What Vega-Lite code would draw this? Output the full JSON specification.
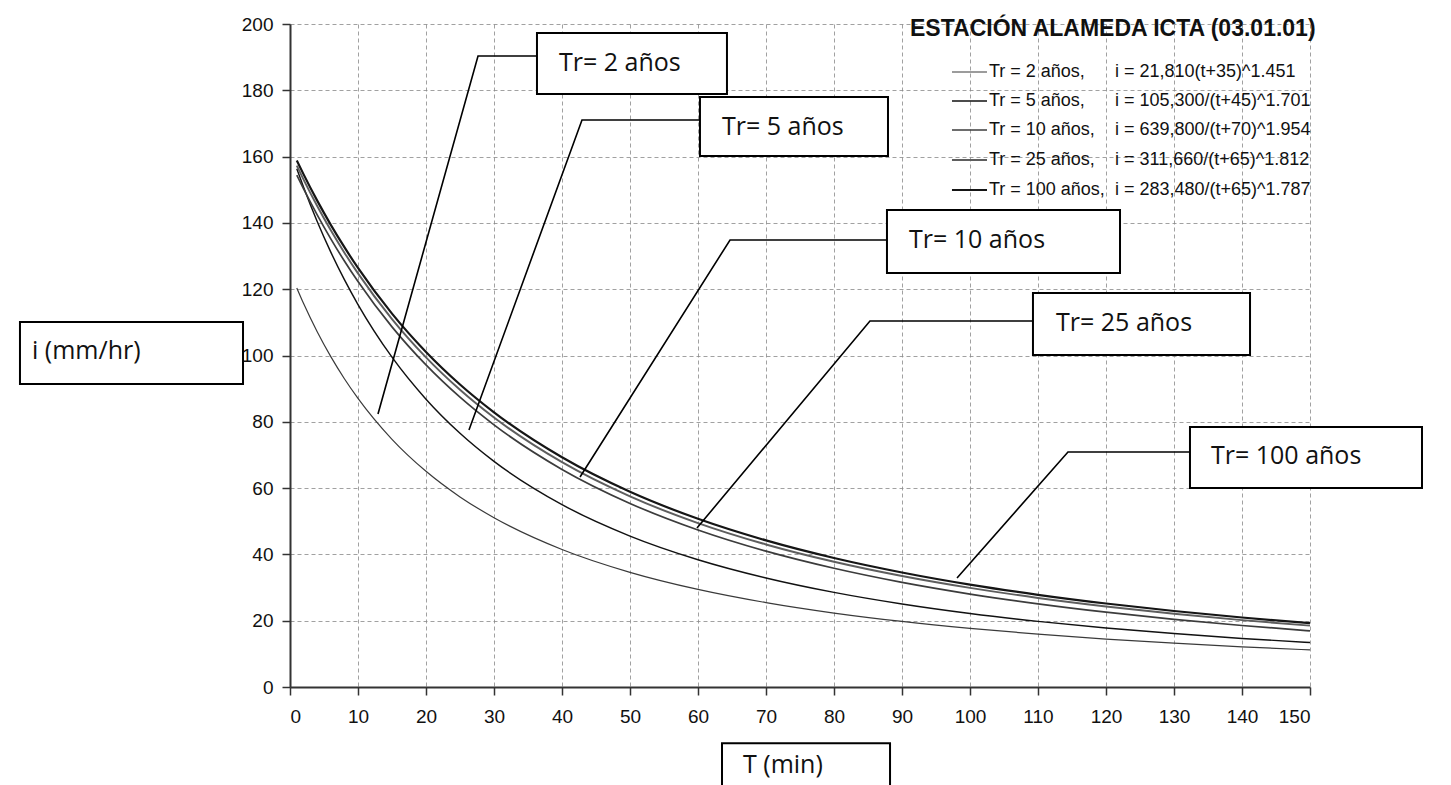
{
  "$schema": "https://vega.github.io/schema/vega-lite/v6.json",
  "width": 1020,
  "height": 663,
  "autosize": {"type": "none"},
  "padding": {"left": 290, "top": 24, "right": 141, "bottom": 98},
  "background": "white",
  "config": {"view": {"stroke": null}},
  "datasets": {
    "curves": [
      {"serie": "2", "t": 1, "i": 120.35}, {"serie": "2", "t": 2, "i": 115.66}, {"serie": "2", "t": 4, "i": 107.16}, {"serie": "2", "t": 6, "i": 99.66}, {"serie": "2", "t": 8, "i": 93.0}, {"serie": "2", "t": 10, "i": 87.07}, {"serie": "2", "t": 15, "i": 74.72}, {"serie": "2", "t": 20, "i": 65.07}, {"serie": "2", "t": 25, "i": 57.35}, {"serie": "2", "t": 30, "i": 51.07}, {"serie": "2", "t": 40, "i": 41.49}, {"serie": "2", "t": 50, "i": 34.6}, {"serie": "2", "t": 60, "i": 29.44}, {"serie": "2", "t": 70, "i": 25.46}, {"serie": "2", "t": 80, "i": 22.31}, {"serie": "2", "t": 90, "i": 19.77}, {"serie": "2", "t": 100, "i": 17.68}, {"serie": "2", "t": 110, "i": 15.94}, {"serie": "2", "t": 120, "i": 14.47}, {"serie": "2", "t": 130, "i": 13.22}, {"serie": "2", "t": 140, "i": 12.13}, {"serie": "2", "t": 150, "i": 11.19},
      {"serie": "5", "t": 1, "i": 156.34}, {"serie": "5", "t": 2, "i": 150.73}, {"serie": "5", "t": 4, "i": 140.41}, {"serie": "5", "t": 6, "i": 131.18}, {"serie": "5", "t": 8, "i": 122.87}, {"serie": "5", "t": 10, "i": 115.36}, {"serie": "5", "t": 15, "i": 99.49}, {"serie": "5", "t": 20, "i": 86.83}, {"serie": "5", "t": 25, "i": 76.55}, {"serie": "5", "t": 30, "i": 68.07}, {"serie": "5", "t": 40, "i": 55.02}, {"serie": "5", "t": 50, "i": 45.53}, {"serie": "5", "t": 60, "i": 38.4}, {"serie": "5", "t": 70, "i": 32.9}, {"serie": "5", "t": 80, "i": 28.55}, {"serie": "5", "t": 90, "i": 25.05}, {"serie": "5", "t": 100, "i": 22.18}, {"serie": "5", "t": 110, "i": 19.8}, {"serie": "5", "t": 120, "i": 17.8}, {"serie": "5", "t": 130, "i": 16.11}, {"serie": "5", "t": 140, "i": 14.65}, {"serie": "5", "t": 150, "i": 13.4},
      {"serie": "10", "t": 1, "i": 154.41}, {"serie": "10", "t": 2, "i": 150.25}, {"serie": "10", "t": 4, "i": 142.42}, {"serie": "10", "t": 6, "i": 135.19}, {"serie": "10", "t": 8, "i": 128.5}, {"serie": "10", "t": 10, "i": 122.3}, {"serie": "10", "t": 15, "i": 108.63}, {"serie": "10", "t": 20, "i": 97.15}, {"serie": "10", "t": 25, "i": 87.41}, {"serie": "10", "t": 30, "i": 79.08}, {"serie": "10", "t": 40, "i": 65.64}, {"serie": "10", "t": 50, "i": 55.38}, {"serie": "10", "t": 60, "i": 47.36}, {"serie": "10", "t": 70, "i": 40.97}, {"serie": "10", "t": 80, "i": 35.81}, {"serie": "10", "t": 90, "i": 31.56}, {"serie": "10", "t": 100, "i": 28.04}, {"serie": "10", "t": 110, "i": 25.08}, {"serie": "10", "t": 120, "i": 22.56}, {"serie": "10", "t": 130, "i": 20.41}, {"serie": "10", "t": 140, "i": 18.55}, {"serie": "10", "t": 150, "i": 16.94},
      {"serie": "25", "t": 1, "i": 157.28}, {"serie": "25", "t": 2, "i": 153.05}, {"serie": "25", "t": 4, "i": 145.11}, {"serie": "25", "t": 6, "i": 137.79}, {"serie": "25", "t": 8, "i": 131.02}, {"serie": "25", "t": 10, "i": 124.76}, {"serie": "25", "t": 15, "i": 110.99}, {"serie": "25", "t": 20, "i": 99.44}, {"serie": "25", "t": 25, "i": 89.66}, {"serie": "25", "t": 30, "i": 81.29}, {"serie": "25", "t": 40, "i": 67.81}, {"serie": "25", "t": 50, "i": 57.5}, {"serie": "25", "t": 60, "i": 49.44}, {"serie": "25", "t": 70, "i": 43.0}, {"serie": "25", "t": 80, "i": 37.78}, {"serie": "25", "t": 90, "i": 33.48}, {"serie": "25", "t": 100, "i": 29.9}, {"serie": "25", "t": 110, "i": 26.87}, {"serie": "25", "t": 120, "i": 24.3}, {"serie": "25", "t": 130, "i": 22.09}, {"serie": "25", "t": 140, "i": 20.17}, {"serie": "25", "t": 150, "i": 18.51},
      {"serie": "100", "t": 1, "i": 158.85}, {"serie": "100", "t": 2, "i": 154.64}, {"serie": "100", "t": 4, "i": 146.72}, {"serie": "100", "t": 6, "i": 139.42}, {"serie": "100", "t": 8, "i": 132.67}, {"serie": "100", "t": 10, "i": 126.41}, {"serie": "100", "t": 15, "i": 112.64}, {"serie": "100", "t": 20, "i": 101.08}, {"serie": "100", "t": 25, "i": 91.26}, {"serie": "100", "t": 30, "i": 82.86}, {"serie": "100", "t": 40, "i": 69.29}, {"serie": "100", "t": 50, "i": 58.89}, {"serie": "100", "t": 60, "i": 50.74}, {"serie": "100", "t": 70, "i": 44.22}, {"serie": "100", "t": 80, "i": 38.92}, {"serie": "100", "t": 90, "i": 34.55}, {"serie": "100", "t": 100, "i": 30.89}, {"serie": "100", "t": 110, "i": 27.81}, {"serie": "100", "t": 120, "i": 25.18}, {"serie": "100", "t": 130, "i": 22.92}, {"serie": "100", "t": 140, "i": 20.96}, {"serie": "100", "t": 150, "i": 19.25}
    ],
    "leaders": [
      {"id": "L2", "k": 1, "x": 36.32, "y": 190.35}, {"id": "L2", "k": 2, "x": 27.65, "y": 190.35}, {"id": "L2", "k": 3, "x": 12.94, "y": 82.35},
      {"id": "L5", "k": 1, "x": 60.29, "y": 171.04}, {"id": "L5", "k": 2, "x": 42.94, "y": 171.04}, {"id": "L5", "k": 3, "x": 26.32, "y": 77.5},
      {"id": "L10", "k": 1, "x": 87.79, "y": 134.84}, {"id": "L10", "k": 2, "x": 64.71, "y": 134.84}, {"id": "L10", "k": 3, "x": 42.65, "y": 63.35},
      {"id": "L25", "k": 1, "x": 109.26, "y": 110.41}, {"id": "L25", "k": 2, "x": 85.29, "y": 110.41}, {"id": "L25", "k": 3, "x": 59.85, "y": 47.96},
      {"id": "L100", "k": 1, "x": 132.35, "y": 70.89}, {"id": "L100", "k": 2, "x": 114.41, "y": 70.89}, {"id": "L100", "k": 3, "x": 98.09, "y": 32.88}
    ],
    "boxes": [
      {"label": "Tr= 2 años", "x1": 36.32, "x2": 64.26, "y1": 197.29, "y2": 178.88, "tx": 39.56, "ty": 188.24},
      {"label": "Tr= 5 años", "x1": 60.29, "x2": 87.94, "y1": 177.98, "y2": 160.18, "tx": 63.53, "ty": 168.93},
      {"label": "Tr= 10 años", "x1": 87.79, "x2": 122.06, "y1": 143.89, "y2": 124.89, "tx": 91.03, "ty": 134.84},
      {"label": "Tr= 25 años", "x1": 109.26, "x2": 141.18, "y1": 118.85, "y2": 100.15, "tx": 112.65, "ty": 109.8},
      {"label": "Tr= 100 años", "x1": 132.35, "x2": 166.47, "y1": 78.43, "y2": 60.03, "tx": 135.44, "ty": 69.68},
      {"label": "i (mm/hr)", "x1": -39.71, "x2": -6.91, "y1": 110.11, "y2": 91.4, "tx": -37.94, "ty": 101.36},
      {"label": "T (min)", "x1": 63.53, "x2": 88.24, "y1": -17.0, "y2": -34.09, "tx": 66.62, "ty": -23.4}
    ],
    "legend": [
      {"serie": "2", "y": 185.52, "lab": "Tr = 2 años,", "eq": "i = 21,810(t+35)^1.451"},
      {"serie": "5", "y": 176.77, "lab": "Tr = 5 años,", "eq": "i = 105,300/(t+45)^1.701"},
      {"serie": "10", "y": 168.02, "lab": "Tr = 10 años,", "eq": "i = 639,800/(t+70)^1.954"},
      {"serie": "25", "y": 158.97, "lab": "Tr = 25 años,", "eq": "i = 311,660/(t+65)^1.812"},
      {"serie": "100", "y": 149.92, "lab": "Tr = 100 años,", "eq": "i = 283,480/(t+65)^1.787"}
    ],
    "title": [
      {"text": "ESTACIÓN ALAMEDA ICTA (03.01.01)", "x": 91.18, "y": 198.49}
    ]
  },
  "layer": [
    {
      "data": {"name": "curves"},
      "mark": {"type": "line", "interpolate": "monotone"},
      "encoding": {
        "x": {
          "field": "t", "type": "quantitative",
          "scale": {"domain": [0, 150], "nice": false, "zero": false},
          "axis": {
            "values": [0, 10, 20, 30, 40, 50, 60, 70, 80, 90, 100, 110, 120, 130, 140, 150],
            "title": null,
            "labelFont": "Liberation Sans, Arial, sans-serif",
            "labelFontSize": 19, "labelColor": "#111", "labelPadding": 12,
            "tickSize": 8, "tickColor": "#333", "tickWidth": 1.5,
            "domainColor": "#333", "domainWidth": 2,
            "grid": true, "gridColor": "#8a8a8a", "gridDash": [4, 3], "gridWidth": 1, "gridOpacity": 0.8
          }
        },
        "y": {
          "field": "i", "type": "quantitative",
          "scale": {"domain": [0, 200], "nice": false},
          "axis": {
            "values": [0, 10, 20, 30, 40, 50, 60, 70, 80, 90, 100, 110, 120, 130, 140, 150, 160, 170, 180, 190, 200],
            "labelExpr": "datum.value % 20 === 0 ? datum.label : ''",
            "title": null,
            "labelFont": "Liberation Sans, Arial, sans-serif",
            "labelFontSize": 19, "labelColor": "#111", "labelPadding": 9,
            "tickSize": 8, "tickColor": "#333", "tickWidth": 1.5,
            "tickOpacity": {"condition": {"test": "datum.value % 20 === 0", "value": 1}, "value": 0},
            "domainColor": "#333", "domainWidth": 2,
            "grid": true, "gridColor": "#8a8a8a", "gridDash": [4, 3], "gridWidth": 1,
            "gridOpacity": {"condition": {"test": "datum.value % 20 === 0", "value": 0.8}, "value": 0.4}
          }
        },
        "color": {
          "field": "serie", "type": "nominal",
          "scale": {"domain": ["2", "5", "10", "25", "100"], "range": ["#3a3a3a", "#111111", "#3c3c3c", "#5e5e5e", "#151515"]},
          "legend": null
        },
        "strokeWidth": {
          "field": "serie", "type": "ordinal",
          "scale": {"domain": ["2", "5", "10", "25", "100"], "range": [1.2, 2.2, 2.8, 3, 3.4]},
          "legend": null
        }
      }
    },
    {
      "data": {"name": "leaders"},
      "mark": {"type": "line", "color": "black", "strokeWidth": 1.6, "clip": false},
      "encoding": {
        "x": {"field": "x", "type": "quantitative", "axis": {"title": null}},
        "y": {"field": "y", "type": "quantitative", "axis": {"title": null}},
        "detail": {"field": "id", "type": "nominal"},
        "order": {"field": "k", "type": "quantitative"}
      }
    },
    {
      "data": {"name": "boxes"},
      "mark": {"type": "rect", "fill": "white", "stroke": "black", "strokeWidth": 2, "clip": false},
      "encoding": {
        "x": {"field": "x1", "type": "quantitative", "axis": {"title": null}},
        "x2": {"field": "x2"},
        "y": {"field": "y1", "type": "quantitative", "axis": {"title": null}},
        "y2": {"field": "y2"}
      }
    },
    {
      "data": {"name": "boxes"},
      "mark": {"type": "text", "font": "Open Sans", "fontSize": 25, "align": "left", "baseline": "middle", "color": "#111", "clip": false},
      "encoding": {
        "x": {"field": "tx", "type": "quantitative", "axis": {"title": null}},
        "y": {"field": "ty", "type": "quantitative", "axis": {"title": null}},
        "text": {"field": "label"}
      }
    },
    {
      "data": {"name": "title"},
      "mark": {"type": "text", "font": "Liberation Sans, Arial, sans-serif", "fontWeight": "bold", "fontSize": 23, "align": "left", "baseline": "middle", "color": "#111"},
      "encoding": {
        "x": {"field": "x", "type": "quantitative", "axis": {"title": null}},
        "y": {"field": "y", "type": "quantitative", "axis": {"title": null}},
        "text": {"field": "text"}
      }
    },
    {
      "data": {"name": "legend"},
      "mark": {"type": "rule"},
      "encoding": {
        "x": {"datum": 97.35, "type": "quantitative", "axis": {"title": null}},
        "x2": {"datum": 102.5},
        "y": {"field": "y", "type": "quantitative", "axis": {"title": null}},
        "color": {"field": "serie", "type": "nominal", "legend": null},
        "strokeWidth": {"field": "serie", "type": "ordinal", "legend": null}
      }
    },
    {
      "data": {"name": "legend"},
      "mark": {"type": "text", "font": "Liberation Sans, Arial, sans-serif", "fontSize": 18, "align": "left", "baseline": "middle", "color": "#111"},
      "encoding": {
        "x": {"datum": 102.79, "type": "quantitative", "axis": {"title": null}},
        "y": {"field": "y", "type": "quantitative", "axis": {"title": null}},
        "text": {"field": "lab"}
      }
    },
    {
      "data": {"name": "legend"},
      "mark": {"type": "text", "font": "Liberation Sans, Arial, sans-serif", "fontSize": 18, "align": "left", "baseline": "middle", "color": "#111"},
      "encoding": {
        "x": {"datum": 121.32, "type": "quantitative", "axis": {"title": null}},
        "y": {"field": "y", "type": "quantitative", "axis": {"title": null}},
        "text": {"field": "eq"}
      }
    }
  ]
}
